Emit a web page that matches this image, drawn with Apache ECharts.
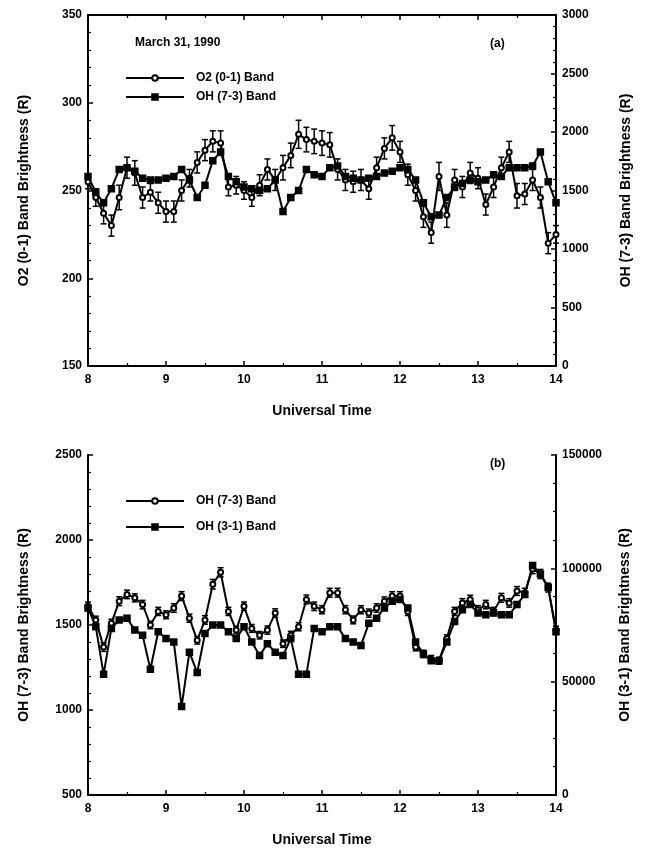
<!DOCTYPE html>
<html><head><meta charset="utf-8">
<script src="https://cdn.jsdelivr.net/npm/echarts/dist/echarts.min.js"></script>
<style>html,body{margin:0;padding:0;background:#fff}#c{width:645px;height:851px}</style>
</head><body><div id="c"></div>
<script>
// Universal Time (hours)
const times = [8.0,8.1,8.2,8.3,8.4,8.5,8.6,8.7,8.8,8.9,9.0,9.1,9.2,9.3,9.4,9.5,9.6,9.7,9.8,9.9,
  10.0,10.1,10.2,10.3,10.4,10.5,10.6,10.7,10.8,10.9,11.0,11.1,11.2,11.3,11.4,11.5,11.6,11.7,11.8,11.9,
  12.0,12.1,12.2,12.3,12.4,12.5,12.6,12.7,12.8,12.9,13.0,13.1,13.2,13.3,13.4,13.5,13.6,13.7,13.8,13.9,14.0];

// Panel (a): O2 (0-1) band brightness (R), left axis
const o2Top = [255,246,237,230,246,263,260,246,249,243,238,238,250,257,266,273,278,277,252,253,
  250,246,253,262,256,263,270,282,279,278,277,276,262,256,255,256,251,263,274,280,
  272,259,250,235,226,258,236,256,252,260,257,242,252,263,272,247,248,256,246,220,225];
const o2TopErr = [4,5,6,6,7,6,7,6,5,6,6,6,6,5,6,6,6,7,5,5,5,5,6,6,6,7,7,8,7,7,7,7,6,6,6,6,6,6,6,7,
  6,6,6,6,6,8,7,6,6,6,6,6,6,6,6,7,6,6,6,6,5];
// Panel (a): OH (7-3) band brightness (R), right axis
const oh73Top = [1620,1485,1395,1515,1680,1695,1665,1605,1590,1590,1605,1620,1680,1590,1440,1545,1755,1830,1620,1575,
  1530,1515,1500,1515,1590,1320,1440,1500,1680,1635,1620,1695,1710,1620,1605,1590,1605,1620,1650,1665,
  1695,1680,1590,1395,1275,1290,1440,1530,1560,1590,1575,1590,1635,1620,1695,1695,1695,1710,1830,1575,1395];

// Panel (b): OH (7-3) band brightness (R), left axis
const oh73Bottom = [1610,1530,1370,1510,1640,1680,1660,1620,1500,1580,1560,1600,1670,1540,1410,1530,1740,1810,1580,1470,
  1610,1480,1440,1470,1570,1390,1440,1490,1650,1610,1590,1690,1690,1590,1530,1590,1570,1600,1640,1670,
  1670,1580,1370,1330,1300,1290,1420,1580,1630,1650,1590,1620,1580,1660,1630,1700,1690,1830,1800,1720,1470];
const oh73BottomErr = [25,22,25,24,26,25,24,25,22,24,23,25,26,24,22,25,28,27,24,22,
  25,23,22,24,25,22,23,24,26,25,24,26,26,24,23,24,24,25,25,26,
  26,24,22,22,21,21,22,24,25,25,24,25,24,26,25,26,26,28,27,26,23];
// Panel (b): OH (3-1) band brightness (R), right axis
const oh31Bottom = [82500,74250,53250,73500,77250,78000,72750,70500,55500,72000,69000,67500,39000,63000,54000,71250,75000,75000,72000,69000,
  74250,67500,61500,66750,63000,61500,69000,53250,53250,73500,72000,74250,74250,69000,67500,66000,75750,78000,82500,85500,
  86250,82500,67500,62250,59250,59250,67500,76500,81750,84000,80250,79500,80250,79500,79500,84000,88500,101250,97500,91500,72000];

const FONT = '"Liberation Sans", Arial, Helvetica, sans-serif';
const pair = (vals) => times.map((t, i) => [t, vals[i]]);

function errSeries(xi, yi, vals, errs) {
  return {
    type: 'custom', xAxisIndex: xi, yAxisIndex: yi, silent: true, z: 1,
    data: times.map((t, i) => [t, vals[i] - errs[i], vals[i] + errs[i]]),
    encode: { x: 0, y: [1, 2] },
    renderItem: (params, api) => {
      const lo = api.coord([api.value(0), api.value(1)]);
      const hi = api.coord([api.value(0), api.value(2)]);
      const w = 3;
      const st = { stroke: '#000', lineWidth: 1.5 };
      return { type: 'group', children: [
        { type: 'line', shape: { x1: lo[0], y1: lo[1], x2: hi[0], y2: hi[1] }, style: st },
        { type: 'line', shape: { x1: lo[0] - w, y1: lo[1], x2: lo[0] + w, y2: lo[1] }, style: st },
        { type: 'line', shape: { x1: hi[0] - w, y1: hi[1], x2: hi[0] + w, y2: hi[1] }, style: st }
      ]};
    }
  };
}

const axisLine = { show: true, onZero: false, lineStyle: { color: '#000', width: 2 } };
const tick = { show: true, inside: true, length: 5, lineStyle: { color: '#000', width: 1.5 } };
const minor = (n) => ({ show: true, splitNumber: n, length: 3, lineStyle: { color: '#000', width: 1.2 } });
const lbl = { color: '#000', fontFamily: FONT, fontWeight: 'bold', fontSize: 12 };
const nameStyle = { color: '#000', fontFamily: FONT, fontWeight: 'bold', fontSize: 14 };
const plain = (v) => String(v);

function xAx(grid, extra) {
  return Object.assign({
    type: 'value', gridIndex: grid, min: 8, max: 14, interval: 1,
    axisLine, axisTick: tick, minorTick: minor(2),
    axisLabel: Object.assign({ margin: 8, formatter: plain }, lbl),
    splitLine: { show: false },
    name: 'Universal Time', nameLocation: 'middle', nameGap: 38, nameTextStyle: nameStyle
  }, extra || {});
}
function yAx(grid, pos, min, max, interval, split, name, gap) {
  return {
    type: 'value', gridIndex: grid, position: pos, min, max, interval,
    axisLine, axisTick: tick, minorTick: minor(split),
    axisLabel: Object.assign({ margin: 6, formatter: plain }, lbl),
    splitLine: { show: false },
    name, nameLocation: 'middle', nameRotate: 90, nameGap: gap, nameTextStyle: nameStyle
  };
}

const lineS = (name, xi, yi, data, sym, size) => ({
  name, type: 'line', xAxisIndex: xi, yAxisIndex: yi, data: pair(data),
  symbol: sym, symbolSize: size, showSymbol: true, color: '#000',
  lineStyle: { color: '#000', width: 2 },
  itemStyle: { color: '#000', borderColor: '#000', borderWidth: 1.5 },
  z: 3
});

const chart = echarts.init(document.getElementById('c'), null, { renderer: 'canvas' });
chart.setOption({
  animation: false,
  backgroundColor: '#fff',
  grid: [
    { left: 88, right: 89, top: 15, height: 351 },
    { left: 88, right: 89, top: 455, height: 340 }
  ],
  xAxis: [
    xAx(0),
    xAx(0, { position: 'top', axisLabel: { show: false }, name: '' }),
    xAx(1)
  ],
  yAxis: [
    yAx(0, 'left', 150, 350, 50, 5, 'O2 (0-1) Band Brightness (R)', 57),
    yAx(0, 'right', 0, 3000, 500, 5, 'OH (7-3) Band Brightness (R)', 63),
    yAx(1, 'left', 500, 2500, 500, 5, 'OH (7-3) Band Brightness (R)', 57),
    yAx(1, 'right', 0, 150000, 50000, 4, 'OH (3-1) Band Brightness (R)', 62)
  ],
  legend: [
    { left: 120, top: 67, orient: 'vertical', itemWidth: 58, itemHeight: 7, itemGap: 7,
      data: ['O2 (0-1) Band', 'OH (7-3) Band'],
      textStyle: Object.assign({ padding: [0, 0, 0, 7] }, lbl), inactiveColor: '#000' },
    { left: 120, top: 490, orient: 'vertical', itemWidth: 58, itemHeight: 7, itemGap: 14,
      data: ['OH (7-3) Band ', 'OH (3-1) Band'],
      textStyle: Object.assign({ padding: [0, 0, 0, 7] }, lbl), inactiveColor: '#000' }
  ],
  graphic: [
    { type: 'text', left: 135, top: 37, style: { text: 'March 31, 1990', font: 'bold 12px ' + FONT, fill: '#000' } },
    { type: 'text', left: 490, top: 38, style: { text: '(a)', font: 'bold 12px ' + FONT, fill: '#000' } },
    { type: 'text', left: 490, top: 458, style: { text: '(b)', font: 'bold 12px ' + FONT, fill: '#000' } }
  ],
  series: [
    errSeries(0, 0, o2Top, o2TopErr),
    lineS('O2 (0-1) Band', 0, 0, o2Top, 'emptyCircle', 5),
    lineS('OH (7-3) Band', 0, 1, oh73Top, 'rect', 6),
    errSeries(2, 2, oh73Bottom, oh73BottomErr),
    lineS('OH (7-3) Band ', 2, 2, oh73Bottom, 'emptyCircle', 5),
    lineS('OH (3-1) Band', 2, 3, oh31Bottom, 'rect', 6)
  ]
});
</script>
</body></html>
